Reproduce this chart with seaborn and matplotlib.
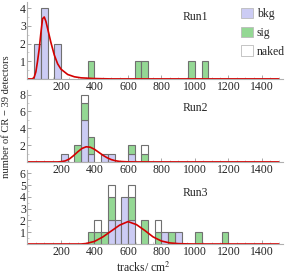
import numpy as np
import pandas as pd
import seaborn as sns
import matplotlib
matplotlib.use('Agg')
import matplotlib.pyplot as plt
from matplotlib.patches import Patch
from matplotlib.ticker import MultipleLocator

# bin left edges (tracks/cm^2, bin width 40) and counts per category
run1_bkg_x = [40, 80, 160]
run1_bkg_n = [2, 4, 2]
run1_sig_x = [360, 640, 680, 960, 1040]
run1_sig_n = [1, 1, 1, 1, 1]
run1_naked_x = []
run1_naked_n = []

run2_bkg_x = [200, 320, 360, 440, 480, 600]
run2_bkg_n = [1, 5, 1, 1, 1, 1]
run2_sig_x = [280, 320, 360, 600, 680]
run2_sig_n = [2, 2, 2, 1, 1]
run2_naked_x = [320, 680]
run2_naked_n = [1, 1]

run3_bkg_x = [480, 520, 560, 600, 800, 880]
run3_bkg_n = [2, 2, 4, 2, 1, 1]
run3_sig_x = [360, 400, 440, 480, 600, 680, 760, 840, 1000, 1160]
run3_sig_n = [1, 1, 1, 2, 2, 2, 1, 1, 1, 1]
run3_naked_x = [400, 480, 600, 760]
run3_naked_n = [1, 1, 1, 1]

# fitted curves
run1_fit_x = [0, 30, 40, 50, 60, 70, 80, 90, 100, 110, 120, 140, 160, 180, 200, 240, 280, 320, 400, 500, 1500]
run1_fit_y = [0, 0, 0.1, 0.4, 1.0, 1.7, 2.6, 3.4, 3.5, 3.25, 2.85, 2.05, 1.35, 0.85, 0.55, 0.25, 0.12, 0.06, 0.02, 0, 0]
run2_fit_x = [0, 180, 200, 225, 250, 275, 300, 325, 350, 375, 400, 425, 450, 475, 500, 525, 550, 600, 650, 1500]
run2_fit_y = [0, 0, 0.03, 0.12, 0.35, 0.75, 1.2, 1.6, 1.8, 1.75, 1.5, 1.15, 0.8, 0.5, 0.28, 0.14, 0.06, 0.01, 0, 0]
run3_fit_x = [0, 320, 350, 400, 450, 500, 550, 600, 650, 700, 750, 800, 850, 900, 950, 1000, 1500]
run3_fit_y = [0, 0, 0.04, 0.22, 0.6, 1.1, 1.6, 1.9, 1.65, 1.15, 0.6, 0.25, 0.09, 0.03, 0.01, 0, 0]

runs = [
    ("Run1", (run1_bkg_x, run1_bkg_n), (run1_sig_x, run1_sig_n), (run1_naked_x, run1_naked_n),
     (run1_fit_x, run1_fit_y), [1, 2, 3, 4], 4.35, 0.805),
    ("Run2", (run2_bkg_x, run2_bkg_n), (run2_sig_x, run2_sig_n), (run2_naked_x, run2_naked_n),
     (run2_fit_x, run2_fit_y), [2, 4, 6, 8], 8.5, 0.756),
    ("Run3", (run3_bkg_x, run3_bkg_n), (run3_sig_x, run3_sig_n), (run3_naked_x, run3_naked_n),
     (run3_fit_x, run3_fit_y), [1, 2, 3, 4, 5, 6], 6.3, 0.686),
]

colors = {"bkg": "#ccccf4", "sig": "#94d894", "naked": "#ffffff"}
edge = "#707070"
fs = 8.5

sns.set_style("white")
plt.rcParams['font.family'] = ['Liberation Serif', 'DejaVu Serif']
plt.rcParams['mathtext.fontset'] = 'stix'

fig = plt.figure(figsize=(2.87, 2.74), dpi=100)
# [left, bottom, width, height] in figure fraction
boxes = [[0.0958, 0.712, 0.890, 0.281],
         [0.0958, 0.409, 0.890, 0.261],
         [0.0958, 0.1095, 0.890, 0.271]]

for box, (name, bkg, sig, naked, fit, yt, ytop, ty) in zip(boxes, runs):
    ax = fig.add_axes(box)
    rows = []
    for kind, (xs, ns) in [("bkg", bkg), ("sig", sig), ("naked", naked)]:
        for x, n in zip(xs, ns):
            rows.append({"x": x + 20, "n": n, "kind": kind})
    df = pd.DataFrame(rows)
    order = [k for k in ["naked", "sig", "bkg"] if k in set(df["kind"])]
    sns.histplot(data=df, x="x", weights="n", hue="kind", hue_order=order,
                 multiple="stack", binwidth=40, binrange=(0, 1560), palette=colors, alpha=1,
                 edgecolor=edge, linewidth=0.8, legend=False, ax=ax)
    for p in list(ax.patches):
        if p.get_height() == 0:
            p.remove()
    sns.lineplot(x=fit[0], y=fit[1], color="#d40000", linewidth=1.2, ax=ax)

    ax.set_xlim(0, 1525)
    ax.set_ylim(0, ytop)
    ax.set_xticks([200, 400, 600, 800, 1000, 1200, 1400])
    ax.set_yticks(yt)
    ax.xaxis.set_minor_locator(MultipleLocator(50))
    ax.yaxis.set_minor_locator(MultipleLocator(0.5 if ytop < 8 else 1))
    ax.set_xlabel("")
    ax.set_ylabel("")
    for s in ["top", "right"]:
        ax.spines[s].set_visible(False)
    for s in ["left", "bottom"]:
        ax.spines[s].set_color("#b0b0b0")
        ax.spines[s].set_linewidth(0.8)
    ax.tick_params(which="major", direction="in", length=3, width=0.6, color="#999999",
                   labelsize=fs, pad=1.2)
    ax.tick_params(which="minor", direction="in", length=1.5, width=0.5, color="#bbbbbb")
    ax.tick_params(axis="x", which="both", bottom=True)
    ax.tick_params(axis="y", which="both", left=True)
    ax.patch.set_alpha(0)
    ax.text(0.656, ty, name, transform=ax.transAxes, ha="center", va="center", fontsize=fs)

    if name == "Run1":
        handles = [Patch(facecolor=colors[k], edgecolor="#bbbbbb", linewidth=0.6, label=k)
                   for k in ["bkg", "sig", "naked"]]
        ax.legend(handles=handles, loc="upper right", bbox_to_anchor=(1.03, 1.0),
                  frameon=False, fontsize=fs, handlelength=1.0, handleheight=1.0,
                  handletextpad=0.3, labelspacing=0.55, borderaxespad=0.1)

fig.text(0.022, 0.573, "number of CR \u2212 39 detectors", rotation=90,
         ha="center", va="center", fontsize=7.6)
fig.text(0.5, 0.022, "tracks/ cm$^{2}$", ha="center", va="center", fontsize=fs)

fig.savefig("out.png", dpi=100)
